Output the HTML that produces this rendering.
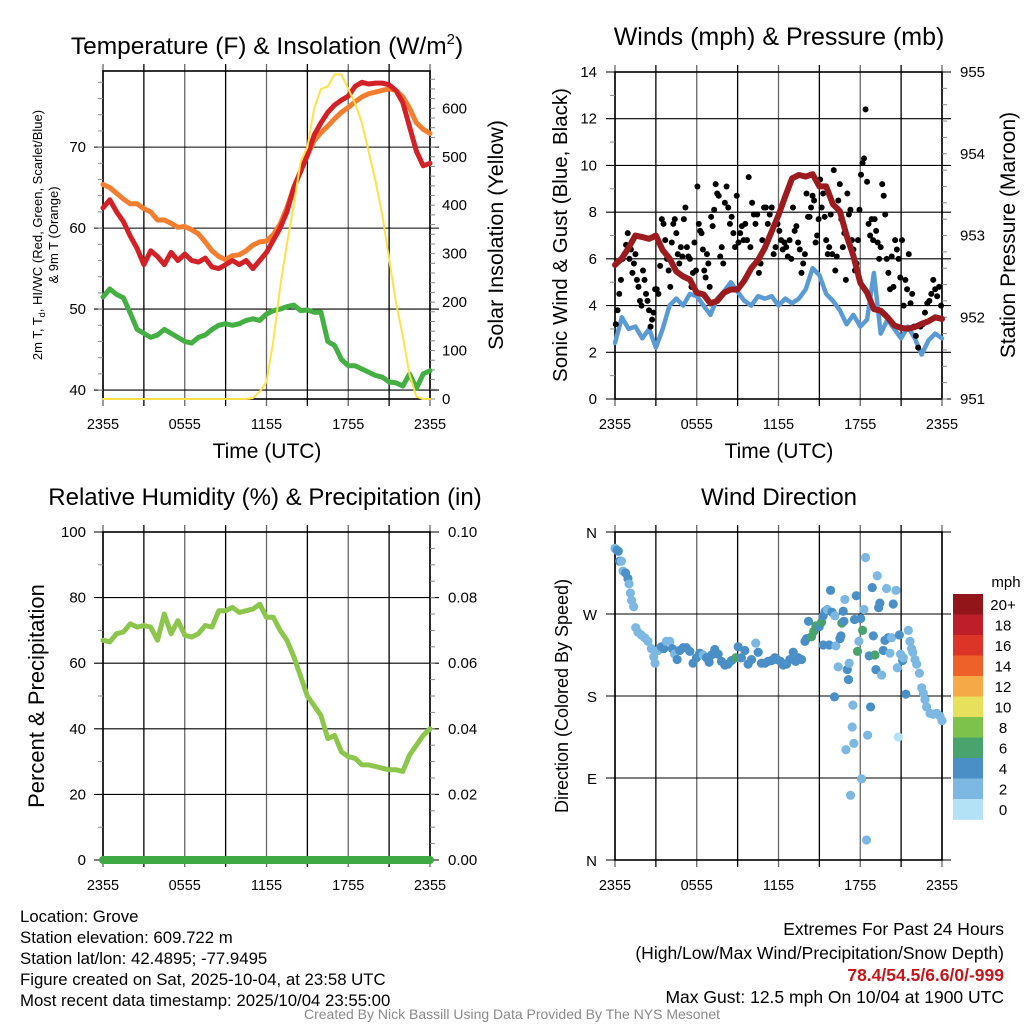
<!DOCTYPE html>
<html><head><meta charset="utf-8">
<style>
html,body{margin:0;padding:0;background:#fff;}
svg{display:block;font-family:"Liberation Sans",Arial,sans-serif;}
</style></head>
<body>
<svg id="fig" width="1024" height="1024" viewBox="0 0 1024 1024" xmlns="http://www.w3.org/2000/svg">
<rect width="1024" height="1024" fill="#fff"/>
<text x="267" y="54" font-size="24.5" text-anchor="middle">Temperature (F) &amp; Insolation (W/m<tspan font-size="15" dy="-10">2</tspan><tspan dy="10">)</tspan></text>
<text x="779" y="45" font-size="25" text-anchor="middle">Winds (mph) &amp; Pressure (mb)</text>
<text x="265" y="505" font-size="24" text-anchor="middle">Relative Humidity (%) &amp; Precipitation (in)</text>
<text x="779" y="505" font-size="24" text-anchor="middle">Wind Direction</text>

<text transform="translate(42,235) rotate(-90)" font-size="13" text-anchor="middle">2m T, T<tspan font-size="9" dy="3">d</tspan><tspan dy="-3">, HI/WC (Red, Green, Scarlet/Blue)</tspan></text>
<text transform="translate(58,235) rotate(-90)" font-size="13" text-anchor="middle">&amp; 9m T (Orange)</text>
<text transform="translate(503,235) rotate(-90)" font-size="21.5" text-anchor="middle">Solar Insolation (Yellow)</text>
<text x="267" y="458" font-size="21" text-anchor="middle">Time (UTC)</text>
<text transform="translate(567,235) rotate(-90)" font-size="20.5" text-anchor="middle">Sonic Wind &amp; Gust (Blue, Black)</text>
<text transform="translate(1015,235) rotate(-90)" font-size="21" text-anchor="middle">Station Pressure (Maroon)</text>
<text x="779" y="458" font-size="21" text-anchor="middle">Time (UTC)</text>
<text transform="translate(44,696) rotate(-90)" font-size="22" text-anchor="middle">Percent &amp; Precipitation</text>
<text transform="translate(568,696) rotate(-90)" font-size="18" text-anchor="middle">Direction (Colored By Speed)</text>

<g font-size="16.8">
<text x="20" y="922">Location: Grove</text>
<text x="20" y="943">Station elevation: 609.722 m</text>
<text x="20" y="964">Station lat/lon: 42.4895; -77.9495</text>
<text x="20" y="985">Figure created on Sat, 2025-10-04, at 23:58 UTC</text>
<text x="20" y="1006">Most recent data timestamp: 2025/10/04 23:55:00</text>
</g>
<g font-size="17.5" text-anchor="end">
<text x="1004" y="935">Extremes For Past 24 Hours</text>
<text x="1004" y="959">(High/Low/Max Wind/Precipitation/Snow Depth)</text>
<text x="1004" y="981" fill="#C4161C" font-weight="bold">78.4/54.5/6.6/0/-999</text>
<text x="1004" y="1003">Max Gust: 12.5 mph On 10/04 at 1900 UTC</text>
</g>
<text x="512" y="1019" font-size="14" fill="#8a8a8a" text-anchor="middle">Created By Nick Bassill Using Data Provided By The NYS Mesonet</text>
<g id="layer"></g>
</svg>
<script>
// ---- data (half-hourly, hours since 2355 UTC) ----
const timeLabels = ["2355","0555","1155","1755","2355"];
const tempRed = [62.5,63.5,62.0,60.8,59.0,57.5,55.5,57.2,56.5,55.5,57.0,56.0,56.8,56.0,55.8,56.3,55.2,55.0,55.5,56.0,55.5,56.0,55.0,56.0,57.0,58.5,60.0,62.0,65.0,67.0,69.0,71.5,73.0,74.3,75.2,75.8,76.3,77.5,78.0,77.8,77.9,77.9,77.7,77.0,75.5,72.5,69.5,67.7,68.0];
const temp9m = [65.4,65.0,64.3,63.6,63.0,63.0,62.4,62.0,61.0,61.0,60.6,60.1,60.2,59.8,59.3,58.3,57.2,56.5,56.1,56.6,56.7,57.2,57.9,58.3,58.4,59.2,60.5,62.5,65.0,67.0,69.0,70.8,71.8,72.6,73.5,74.3,74.9,75.6,76.2,76.6,76.8,77.0,77.2,77.0,76.2,74.8,73.0,72.2,71.7];
const dewGreen = [51.5,52.5,51.8,51.4,49.5,47.5,47.0,46.5,46.8,47.5,47.0,46.5,46.0,45.8,46.5,46.8,47.5,48.0,48.2,48.0,48.2,48.6,48.8,48.6,49.4,49.8,50.0,50.3,50.5,49.8,49.9,49.6,49.6,46.0,45.5,43.8,43.0,43.0,42.6,42.2,41.8,41.6,41.0,40.9,40.5,42.0,40.2,42.0,42.4];
const solar = [0,0,0,0,0,0,0,0,0,0,0,0,0,0,0,0,0,0,0,0,0,0,2,15,35,120,230,320,400,490,520,600,640,645,670,670,640,610,570,510,450,380,290,200,130,50,5,0,0];
const tempTicks = [40,50,60,70];
const solarTicks = [0,100,200,300,400,500,600];

const windSpeed = [2.4,3.5,3.0,3.1,2.6,3.0,2.2,3.0,4.0,4.3,4.0,4.5,4.4,4.0,3.6,4.3,4.6,5.0,4.6,4.2,4.0,4.4,4.3,4.4,4.0,4.3,4.1,4.3,4.7,5.6,5.3,4.5,4.2,3.8,3.2,3.6,3.1,3.4,5.4,2.8,3.4,3.0,2.6,3.1,2.6,1.9,2.5,2.8,2.6];
const pressure = [952.64,952.72,952.85,953.0,952.98,952.96,953.0,952.82,952.72,952.56,952.5,952.46,952.3,952.28,952.17,952.2,952.3,952.34,952.34,952.45,952.6,952.7,952.85,953.05,953.25,953.48,953.7,953.74,953.72,953.75,953.6,953.6,953.38,953.3,953.0,952.75,952.42,952.3,952.1,952.08,952.0,951.9,951.87,951.86,951.88,951.92,951.95,952.0,951.98];
const gustByHour = [
[3.2,3.8,4.5,5.1,6.0,6.2,6.6,7.1],
[6.0,6.4,5.4,5.8,6.2,5.1,4.8,4.2,4.0],
[5.5,5.1,4.5,4.2,3.8,3.1,3.4,3.7,4.7],
[4.7,4.5,5.7,7.7,7.5,6.8,6.0,5.5],
[4.8,6.7,7.5,7.7,7.1,6.2,5.8,6.5,6.1],
[7.7,8.2,6.5,6.1,6.0,4.8,5.4,6.7,5.5],
[9.1,7.5,7.2,7.1,6.4,5.5,5.2,6.2,5.8,4.8],
[7.8,7.4,8.1,9.2,8.8,8.7,6.1,6.5,5.8],
[8.4,9.1,8.2,7.5,7.8,7.1,6.5,8.7],
[6.7,7.1,7.4,6.8,7.5,6.8,9.5,6.5],
[8.4,7.9,7.5,7.9,5.4,5.8,6.8,8.2],
[8.2,7.5,7.9,8.2,6.2,6.5,7.5],
[7.2,6.8,6.4,6.7,6.5,6.1,6.8,6.0],
[8.2,7.2,7.4,6.7,6.4,5.4,5.8,6.2],
[8.8,7.8,7.8,8.2,8.7,8.5,6.7,7.0,7.7],
[9.4,8.2,8.8,7.8,6.8,6.2,6.5,7.9,6.2],
[9.8,5.5,6.1,8.5,9.2,7.7,6.5,7.1,5.1],
[8.8,7.9,8.1,6.8,6.4,5.5,5.8,6.8,8.1],
[9.6,10.1,10.3,12.4,9.3,7.5,7.0,7.7,6.8],
[7.7,7.2,6.7,6.0,6.5,9.2,8.7,7.9,6.0],
[5.4,4.7,6.1,4.8,6.8,6.4,6.0,5.2],
[6.8,4.0,5.1,4.7,6.2,4.1,4.5,3.1],
[2.7,2.2,3.1,3.2,3.7,4.1],
[4.2,4.5,5.1,4.7,4.4,4.8,4.0]];
const windTicks = [0,2,4,6,8,10,12,14];
const pressTicks = [951,952,953,954,955];

const rh = [67,66.5,69,69.5,72,71,71.5,71,67,75,69,73,68.5,68,69,71.5,71,76,76,77,75.5,76,76.5,78,74,74,70,67,62,56,50,47,44,37,38,33,31.5,31,29,29,28.5,28,27.5,27.5,27,32,35,38,40];
const precip = [0,0,0,0,0,0,0,0,0,0,0,0,0,0,0,0,0,0,0,0,0,0,0,0,0,0,0,0,0,0,0,0,0,0,0,0,0,0,0,0,0,0,0,0,0,0,0,0,0];
const rhTicks = [0,20,40,60,80,100];
const precipTicks = ["0.00","0.02","0.04","0.06","0.08","0.10"];

const dirHour = [0.00,0.15,0.24,0.34,0.47,0.59,0.78,0.95,1.03,1.13,1.22,1.37,1.52,1.69,1.93,2.18,2.42,2.67,2.84,2.94,3.16,3.40,3.58,3.77,4.02,4.21,4.38,4.56,4.75,5.00,5.24,5.49,5.73,5.98,6.22,6.47,6.71,6.91,7.08,7.32,7.57,7.81,8.06,8.30,8.55,8.87,9.04,9.28,9.53,9.77,10.02,10.33,10.51,10.75,11.00,11.24,11.49,11.73,11.90,12.15,12.34,12.59,12.83,13.08,13.27,13.45,13.69,13.94,14.06,14.20,14.42,14.59,14.74,14.99,15.16,15.28,15.43,15.58,15.82,15.92,16.14,15.28,15.72,16.21,16.11,16.38,16.51,16.58,16.65,16.75,16.80,16.87,17.05,17.14,17.19,17.41,17.46,17.53,16.95,17.29,17.58,17.71,17.80,17.90,18.03,18.10,18.17,18.27,18.39,18.46,18.54,18.66,18.76,18.88,18.96,19.08,19.15,19.25,19.35,19.44,19.57,19.69,19.81,19.93,20.06,20.18,20.30,20.42,20.62,20.72,20.79,20.87,20.96,21.11,21.16,21.35,21.53,21.65,21.77,21.85,22.02,22.14,22.34,22.51,22.63,22.75,22.87,23.12,23.36,23.61,23.85,24.00];
const dirDeg = [342,340,339,328,328,317,315,309,303,293,285,278,255,250,247,244,240,232,223,216,230,234,232,240,240,232,226,220,230,233,233,229,216,222,227,225,222,217,225,231,226,218,214,215,219,222,234,222,230,215,220,238,228,216,216,218,219,222,220,218,214,215,220,228,218,222,220,240,243,262,245,251,257,256,261,268,273,275,296,272,268,236,236,235,179,212,243,246,260,273,262,286,209,198,216,146,170,128,121,71,264,290,229,240,265,89,252,275,332,22,137,224,168,299,246,225,209,312,277,282,203,230,241,298,244,227,244,281,296,211,135,247,226,219,222,182,252,240,232,228,220,215,205,189,183,176,168,161,160,161,158,153];
const dirSpeed = [2,4,4,4,2,2,4,4,2,2,2,2,2,2,2,2,2,2,2,2,2,4,4,2,2,4,2,4,4,4,4,4,4,4,4,2,4,4,4,4,4,4,4,4,4,6,4,4,4,4,4,2,4,4,4,4,4,4,4,4,4,4,4,4,4,4,4,4,4,4,6,6,6,4,6,4,4,2,4,4,2,4,4,2,4,2,4,4,6,4,4,2,4,4,2,2,2,2,2,2,4,4,6,2,4,2,6,2,2,2,2,4,4,4,4,6,4,2,4,4,2,4,4,2,4,2,2,4,2,2,0,4,2,4,2,4,2,2,2,2,2,2,2,2,2,2,2,2,2,2,2,2];
const dirTicks = ["N","W","S","E","N"];
const speedBins = ["20+","18","16","14","12","10","8","6","4","2","0"];
const binColors = ["#921519","#BD1E2A","#DC3427","#EE6229","#F5A947","#E6E05A","#7DC34B","#48A46C","#4A90C6","#7DB8E3","#B3E2F6"];

// ---- drawing ----
const NS="http://www.w3.org/2000/svg";
const layer=document.getElementById('layer');
function mk(tag,attrs,parent){const e=document.createElementNS(NS,tag);for(const k in attrs)e.setAttribute(k,attrs[k]);(parent||layer).appendChild(e);return e;}
function panel(x0,x1,y0,y1){return {x0,x1,y0,y1,sx:h=>x0+h/24*(x1-x0),sy:(v,lo,hi)=>y1-(v-lo)/(hi-lo)*(y1-y0)};}
const P1=panel(103,430,71,399), P2=panel(615,942,72,399), P3=panel(103,430,532,860), P4=panel(615,942,532,860);

function grid(p,hLines){
  const g=mk('g',{});
  
  
  for(let i=0;i<=8;i++){const x=p.sx(i*3);mk('line',{x1:x,x2:x,y1:p.y0-7,y2:p.y1+7,stroke:(i%2?'#000':'#666'),'stroke-width':1.3},g);}
  hLines.forEach(y=>mk('line',{x1:p.x0-9,x2:p.x1+9,y1:y,y2:y,stroke:'#000','stroke-width':1.1},g));
  mk('rect',{x:p.x0,y:p.y0,width:p.x1-p.x0,height:p.y1-p.y0,fill:'none',stroke:'#000','stroke-width':1.6},g);
  timeLabels.forEach((t,i)=>{const tx=mk('text',{x:p.sx(i*6),y:p.y1+30,'font-size':14.5,'text-anchor':'middle'},g);tx.textContent=t;
    
    });
  return g;
}
function minorTicks(p,ys,side){ys.forEach(y=>{const x=side<0?p.x0:p.x1;mk('line',{x1:x,x2:x+side*5,y1:y,y2:y,stroke:'#888','stroke-width':1});});}
function lbl(x,y,t,anchor,size,name){const e=mk('text',{x:x,y:y,'font-size':size||14,'text-anchor':anchor});e.textContent=t;
  
  return e;}
function line(p,arr,lo,hi,color,w,name){const d=arr.map((v,i)=>(i?'L':'M')+p.sx(i*0.5).toFixed(1)+','+p.sy(v,lo,hi).toFixed(1)).join('');
  const e=mk('path',{d:d,fill:'none',stroke:color,'stroke-width':w,'stroke-linejoin':'round','stroke-linecap':'round'});
  
  return e;}

// Panel 1
const T_LO=38.9,T_HI=79.4,S_LO=0,S_HI=677;
grid(P1,tempTicks.map(v=>P1.sy(v,T_LO,T_HI)));
for(let v=40;v<=78;v+=2)minorTicks(P1,[P1.sy(v,T_LO,T_HI)],-1);
for(let v=0;v<=660;v+=20)minorTicks(P1,[P1.sy(v,S_LO,S_HI)],1);
tempTicks.forEach(v=>lbl(86,P1.sy(v,T_LO,T_HI)+5,String(v),'end',15,'temp-tick-label'));
solarTicks.forEach(v=>lbl(442,P1.sy(v,S_LO,S_HI)+5,String(v),'start',15,'solar-tick-label'));
line(P1,dewGreen,T_LO,T_HI,'#44B044',5,'dewpoint-line');
line(P1,temp9m,T_LO,T_HI,'#F47E30',5,'temp-9m-line');
line(P1,tempRed,T_LO,T_HI,'#D42027',5,'temp-2m-line');
line(P1,solar,S_LO,S_HI,'#FFE14A',2,'solar-line');

// Panel 2
const W_LO=0,W_HI=14,PR_LO=951,PR_HI=955;
grid(P2,windTicks.map(v=>P2.sy(v,W_LO,W_HI)));
for(let v=1;v<14;v+=2)minorTicks(P2,[P2.sy(v,W_LO,W_HI)],-1);
for(let v=951;v<955;v+=0.2)minorTicks(P2,[P2.sy(v,PR_LO,PR_HI)],1);
windTicks.forEach(v=>lbl(597,P2.sy(v,W_LO,W_HI)+5,String(v),'end',15,'wind-tick-label'));
pressTicks.forEach(v=>lbl(960,P2.sy(v,PR_LO,PR_HI)+5,String(v),'start',15,'pressure-tick-label'));
line(P2,windSpeed,W_LO,W_HI,'#5B9BD5',4.5,'wind-speed-line');
gustByHour.forEach((vals,h)=>vals.forEach((v,i)=>{
  const c=mk('circle',{cx:P2.sx(h+(i+0.5)/vals.length),cy:P2.sy(v,W_LO,W_HI),r:3,fill:'#000'});
  
  
}));
line(P2,pressure,PR_LO,PR_HI,'#9B1B1E',6,'pressure-line');

// Panel 3
grid(P3,rhTicks.map(v=>P3.sy(v,0,100)));
for(let v=10;v<100;v+=20)minorTicks(P3,[P3.sy(v,0,100)],-1);
for(let v=5;v<100;v+=5)minorTicks(P3,[P3.sy(v,0,100)],1);
rhTicks.forEach(v=>lbl(86,P3.sy(v,0,100)+5,String(v),'end',15,'rh-tick-label'));
precipTicks.forEach((t,i)=>lbl(448,P3.sy(i*20,0,100)+5,t,'start',15,'precip-tick-label'));
line(P3,rh,0,100,'#8DC64C',5,'rh-line');
line(P3,precip,0,0.1,'#3FA943',8,'precip-line');

// Panel 4
grid(P4,[0,90,180,270,360].map(v=>P4.sy(v,0,360)));
dirTicks.forEach((t,i)=>lbl(597,P4.sy(360-i*90,0,360)+6,t,'end',15,'direction-tick-label'));
dirHour.forEach((h,i)=>{
  const bin=10-Math.min(10,Math.round(dirSpeed[i]/2));
  const c=mk('circle',{cx:P4.sx(h),cy:P4.sy(dirDeg[i],0,360),r:4.6,fill:binColors[bin]});
  
  
});
// colorbar
lbl(1006,587,'mph','middle',15,'colorbar-title');
speedBins.forEach((b,i)=>{
  const r=mk('rect',{x:953,y:594+i*20.5,width:30,height:20.8,fill:binColors[i]});
  
  
  lbl(1003,594+i*20.5+16,b,'middle',15,'colorbar-label');
});
</script>
</body></html>
